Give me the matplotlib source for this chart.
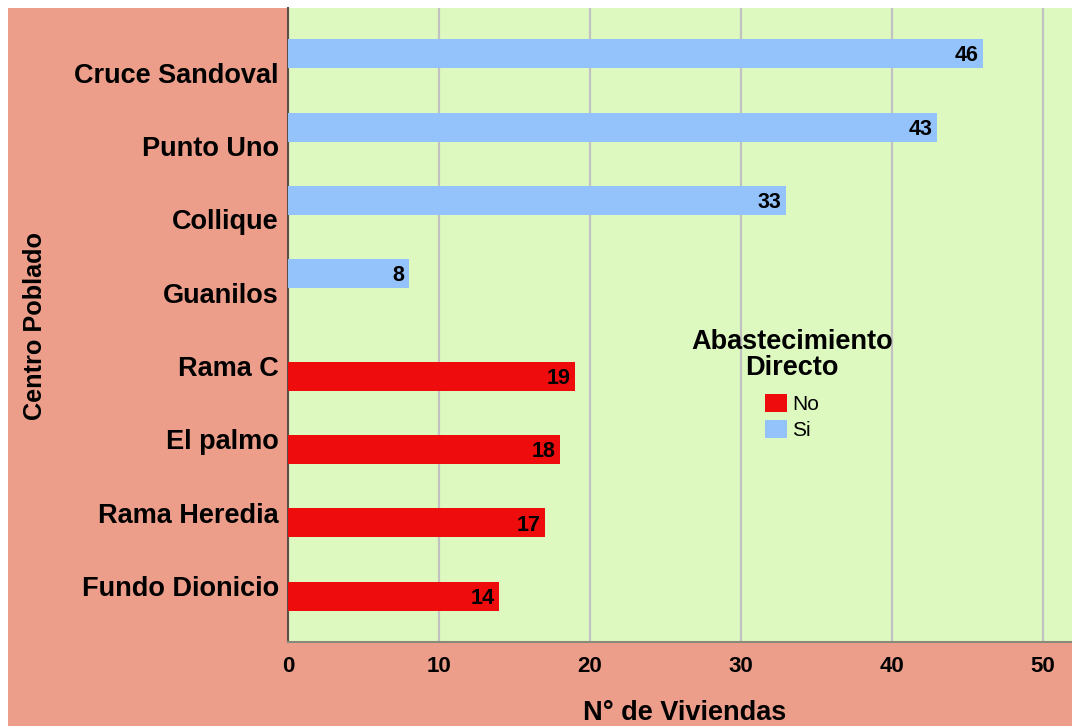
import matplotlib
matplotlib.use("Agg")
import matplotlib.pyplot as plt
from matplotlib.patches import Rectangle, Patch
import numpy as np

categories = ["Cruce Sandoval", "Punto Uno", "Collique", "Guanilos",
              "Rama C", "El palmo", "Rama Heredia", "Fundo Dionicio"]
si_values = [46, 43, 33, 8, 0, 0, 0, 0]
no_values = [0, 0, 0, 0, 19, 18, 17, 14]
series_names = ["No", "Si"]
xticks = [0, 10, 20, 30, 40, 50]

RED = "#EE0C0C"
BLUE = "#94C2FA"
GREEN = "#DDF9C0"
SALMON = "#EC9E8B"
GRID = "#C2C2C2"

plt.rcParams['font.family'] = ['Liberation Sans', 'DejaVu Sans']

W, H = 1072, 726
fig = plt.figure(figsize=(W / 100, H / 100), dpi=100, facecolor="white")
bg = Rectangle((8 / W, 0), 1 - 8 / W, 1 - 8 / H, transform=fig.transFigure,
               facecolor=SALMON, edgecolor="none", zorder=-10)
fig.patches.append(bg)

ax = fig.add_axes([288 / W, (H - 642) / H, (W - 288) / W, (642 - 8) / H])
ax.set_facecolor(GREEN)
ax.set_zorder(1)

y = np.arange(len(categories))
bh = 0.395
off = 0.198
for i, (s, n) in enumerate(zip(si_values, no_values)):
    if s > 0:
        ax.barh(y[i] - off, s, height=bh, color=BLUE, zorder=3)
        ax.text(s - 0.3, y[i] - off + 0.03, str(s), ha="right", va="center",
                fontsize=15.5, fontweight="bold", zorder=4)
    if n > 0:
        ax.barh(y[i] + off, n, height=bh, color=RED, zorder=3)
        ax.text(n - 0.3, y[i] + off + 0.03, str(n), ha="right", va="center",
                fontsize=15.5, fontweight="bold", zorder=4)

ax.set_xlim(0, (W - 288) / 15.1)
ax.set_ylim(len(categories) - 1 + 0.82, -0.82)
ax.set_xticks(xticks)
ax.set_xticklabels([str(t) for t in xticks], fontsize=16, fontweight="bold")
ax.set_yticks(y + 0.06)
ax.set_yticklabels(categories, fontsize=19.5, fontweight="bold")
ax.tick_params(axis="y", length=0, pad=6.5)
ax.tick_params(axis="x", length=0, pad=10)
ax.grid(axis="x", color=GRID, linewidth=1.6, zorder=1)
ax.set_axisbelow(True)
for side in ["top", "right"]:
    ax.spines[side].set_visible(False)
ax.spines["left"].set_color("#5e5048")
ax.spines["left"].set_linewidth(1.5)
ax.spines["bottom"].set_color("#8a8a7a")
ax.spines["bottom"].set_linewidth(1.5)

fig.text(685 / W, 1 - 713 / H, "N° de Viviendas", ha="center", va="center",
         fontsize=19.5, fontweight="bold")
fig.text(35 / W, 1 - 326 / H, "Centro Poblado", ha="center", va="center",
         rotation=90, fontsize=18.2, fontweight="bold")

# legend title as separate text for precise placement
fig.text(792 / W, 1 - 355 / H, "Abastecimiento\nDirecto", ha="center", va="center",
         fontsize=19.5, fontweight="bold", linespacing=1.02, multialignment="center")

handles = [Patch(facecolor=RED, edgecolor="none"), Patch(facecolor=BLUE, edgecolor="none")]
leg = ax.legend(handles, series_names, loc="upper left",
                bbox_to_anchor=(765 / W, 1 - 394 / H), bbox_transform=fig.transFigure,
                frameon=False, fontsize=15, handlelength=1.05, handleheight=0.97,
                handletextpad=0.25, labelspacing=0.28, borderpad=0, borderaxespad=0)

fig.savefig("out.png", dpi=100, facecolor=fig.get_facecolor())
